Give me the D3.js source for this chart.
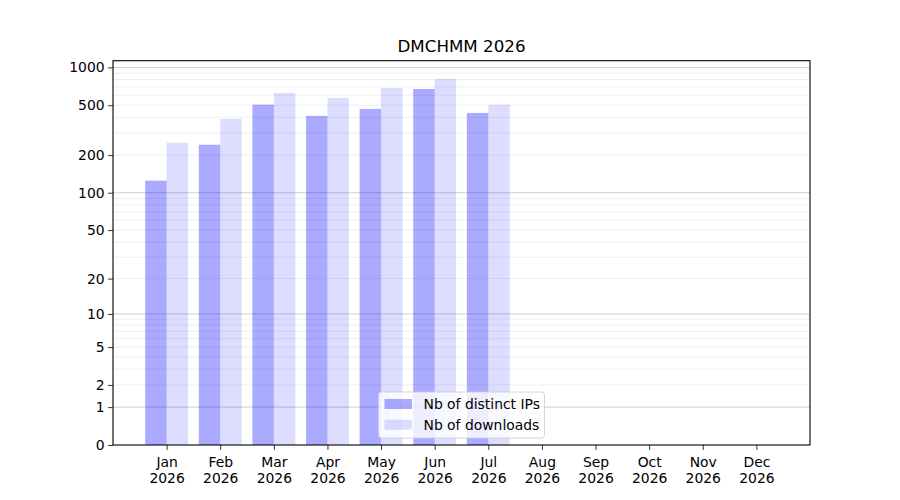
<!DOCTYPE html>
<html>
<head>
<meta charset="utf-8">
<script src="https://cdn.jsdelivr.net/npm/d3@7"></script>
<style>
  body { margin: 0; background: #fff; }
  svg, svg text { font-family: "DejaVu Sans", sans-serif; }
</style>
</head>
<body>
<svg width="900" height="500"></svg>
<script>
const months = ["Jan", "Feb", "Mar", "Apr", "May", "Jun", "Jul", "Aug", "Sep", "Oct", "Nov", "Dec"];
const year = "2026";
const distinctIPs = [125, 242, 505, 411, 467, 673, 434, null, null, null, null, null];
const downloads = [251, 389, 626, 571, 686, 808, 505, null, null, null, null, null];
const yTicks = [0, 1, 2, 5, 10, 20, 50, 100, 200, 500, 1000];
const majorGrid = [1, 10, 100, 1000];
const minorGrid = [2, 3, 4, 5, 6, 7, 8, 9, 20, 30, 40, 50, 60, 70, 80, 90, 200, 300, 400, 500, 600, 700, 800, 900];

const svg = d3.select("svg"),
      margin = { top: 60.7, right: 90, bottom: 55, left: 113 },
      width = 900 - margin.left - margin.right,
      height = 500 - margin.top - margin.bottom,
      g = svg.append("g").attr("transform", `translate(${margin.left},${margin.top})`);

const x = d3.scaleLinear().domain([-1, 12]).range([0, width]);

const maxVal = d3.max(downloads.concat(distinctIPs));
const yTop = Math.expm1(1.05 * Math.log1p(maxVal));
const y = d3.scaleSymlog().constant(1).domain([0, yTop]).range([height, 0]);

// grid
g.append("g").selectAll("line")
  .data(minorGrid)
  .enter().append("line")
  .attr("x1", 0).attr("x2", width)
  .attr("y1", d => y(d)).attr("y2", d => y(d))
  .attr("stroke", "#ebebeb").attr("stroke-width", 0.8);

g.append("g").selectAll("line")
  .data(majorGrid)
  .enter().append("line")
  .attr("x1", 0).attr("x2", width)
  .attr("y1", d => y(d)).attr("y2", d => y(d))
  .attr("stroke", "#c4c4c4").attr("stroke-width", 0.8);

// bars
const bw = x(0.4) - x(0);
g.selectAll(".ip")
  .data(distinctIPs.map((v, i) => ({ i, v })).filter(d => d.v != null))
  .enter().append("rect")
  .attr("class", "ip")
  .attr("x", d => x(d.i - 0.4))
  .attr("y", d => y(d.v))
  .attr("width", bw)
  .attr("height", d => height - y(d.v))
  .attr("fill", "blue").attr("fill-opacity", 1 / 3);

g.selectAll(".dl")
  .data(downloads.map((v, i) => ({ i, v })).filter(d => d.v != null))
  .enter().append("rect")
  .attr("class", "dl")
  .attr("x", d => x(d.i))
  .attr("y", d => y(d.v))
  .attr("width", bw)
  .attr("height", d => height - y(d.v))
  .attr("fill", "blue").attr("fill-opacity", 34 / 255);

// axes
const xAxis = g.append("g")
  .attr("transform", `translate(0,${height})`)
  .call(d3.axisBottom(x).tickValues(d3.range(12)).tickSize(4.9).tickPadding(3.5).tickFormat(""));
xAxis.selectAll(".tick").each(function(d) {
  const t = d3.select(this).append("text")
    .attr("fill", "#000").attr("text-anchor", "middle")
    .style("font-size", "13.9px");
  t.append("tspan").attr("x", 0).attr("y", 22).text(months[d]);
  t.append("tspan").attr("x", 0).attr("y", 37.5).text(year);
});

const yAxis = g.append("g")
  .call(d3.axisLeft(y).tickValues(yTicks).tickSize(4.9).tickPadding(3.5).tickFormat(d3.format("d")));
yAxis.selectAll("text").style("font-size", "13.9px").attr("fill", "#000");

[xAxis, yAxis].forEach(a => {
  a.attr("font-family", null).attr("font-size", null);
  a.select(".domain").remove();
  a.selectAll(".tick line").attr("stroke", "#000").attr("stroke-width", 0.8);
});

// frame
g.append("rect")
  .attr("width", width).attr("height", height)
  .attr("fill", "none").attr("stroke", "#000").attr("stroke-width", 1.1);

// title
svg.append("text")
  .attr("x", margin.left + width / 2)
  .attr("y", 52)
  .attr("text-anchor", "middle")
  .style("font-size", "16.7px")
  .text("DMCHMM 2026");

// legend
const legend = g.append("g")
  .attr("class", "legend")
  .attr("transform", `translate(${width / 2 - 83},${height - 53})`);

legend.append("rect")
  .attr("width", 166).attr("height", 46).attr("rx", 3)
  .attr("fill", "#fff").attr("fill-opacity", 0.8)
  .attr("stroke", "#cccccc").attr("stroke-width", 0.8);

const items = [
  { label: "Nb of distinct IPs", op: 1 / 3 },
  { label: "Nb of downloads", op: 34 / 255 }
];
items.forEach((it, i) => {
  legend.append("rect")
    .attr("x", 6).attr("y", 7 + i * 20.7)
    .attr("width", 27.5).attr("height", 10)
    .attr("fill", "blue").attr("fill-opacity", it.op);
  legend.append("text")
    .attr("x", 45).attr("y", 12 + i * 20.7)
    .attr("dy", "0.35em")
    .style("font-size", "13.9px")
    .text(it.label);
});
</script>
</body>
</html>
